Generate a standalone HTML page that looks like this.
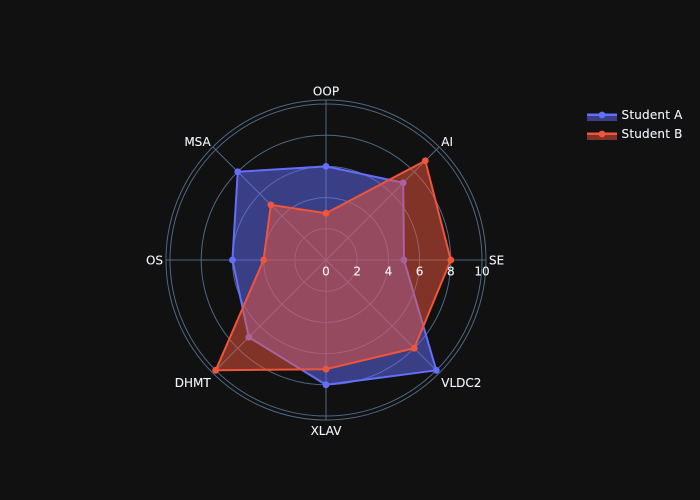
<!DOCTYPE html>
<html>
<head>
<meta charset="utf-8">
<title>Student radar chart</title>
<style>
html,body{margin:0;padding:0;background:#111111;}
svg{display:block;}
text{font-family:"DejaVu Sans","Liberation Sans",sans-serif;font-size:12px;fill:#f2f5fa;stroke:#f2f5fa;stroke-width:0.1px;}
.legend-text{letter-spacing:0.2px;}
</style>
</head>
<body>
<svg id="chart" xmlns="http://www.w3.org/2000/svg" width="700" height="500" viewBox="0 0 700 500">
  <rect x="0" y="0" width="700" height="500" fill="#111111"/>
  <g id="grid"></g>
  <g id="series"></g>
  <g id="labels"></g>
  <g>
    <g>
      <rect x="587" y="113" width="30" height="8" fill="rgba(99,110,250,0.5)"/>
      <line x1="587" y1="115" x2="617" y2="115" stroke="#636efa" stroke-width="2"/>
      <circle cx="602" cy="115" r="3.4" fill="#636efa"/>
      <text class="legend-text" x="621.5" y="119">Student A</text>
    </g>
    <g>
      <rect x="587" y="132" width="30" height="8" fill="rgba(239,85,59,0.5)"/>
      <line x1="587" y1="134" x2="617" y2="134" stroke="#EF553B" stroke-width="2"/>
      <circle cx="602" cy="134" r="3.4" fill="#EF553B"/>
      <text class="legend-text" x="621.5" y="138">Student B</text>
    </g>
  </g>
</svg>
<script>
var categories = ["OOP", "AI", "SE", "VLDC2", "XLAV", "DHMT", "OS", "MSA"];
var studentA = [6, 7, 5, 10, 8, 7, 6, 8];
var studentB = [3, 9, 8, 8, 7, 10, 4, 5];
var radialTicks = [0, 2, 4, 6, 8, 10];

var NS = "http://www.w3.org/2000/svg";
var cx = 326, cy = 260, unit = 15.6, outerR = 160;
var gridEl = document.getElementById("grid");
var seriesEl = document.getElementById("series");
var labelsEl = document.getElementById("labels");

function rScale(v) { return v * unit; }
function angleOf(i) { return 2 * Math.PI * i / categories.length; }
function px(i, r) { return cx + r * Math.sin(angleOf(i)); }
function py(i, r) { return cy - r * Math.cos(angleOf(i)); }
function make(tag, parent) {
  var el = document.createElementNS(NS, tag);
  parent.appendChild(el);
  return el;
}

// spokes
categories.forEach(function (c, i) {
  var l = make("line", gridEl);
  
  
  l.setAttribute("x1", cx);
  l.setAttribute("y1", cy);
  l.setAttribute("x2", px(i, outerR));
  l.setAttribute("y2", py(i, outerR));
  l.setAttribute("stroke", "#506784");
  l.setAttribute("stroke-width", "1");
});

// rings
radialTicks.forEach(function (t) {
  if (t === 0) return;
  var ring = make("circle", gridEl);
  
  
  ring.setAttribute("cx", cx);
  ring.setAttribute("cy", cy);
  ring.setAttribute("r", rScale(t));
  ring.setAttribute("fill", "none");
  ring.setAttribute("stroke", "#506784");
  ring.setAttribute("stroke-width", "1");
});
var outer = make("circle", gridEl);


outer.setAttribute("cx", cx);
outer.setAttribute("cy", cy);
outer.setAttribute("r", outerR);
outer.setAttribute("fill", "none");
outer.setAttribute("stroke", "#506784");
outer.setAttribute("stroke-width", "1");

// radial axis line
var axisLine = make("line", gridEl);


axisLine.setAttribute("x1", cx);
axisLine.setAttribute("y1", cy);
axisLine.setAttribute("x2", cx + outerR);
axisLine.setAttribute("y2", cy);
axisLine.setAttribute("stroke", "#506784");
axisLine.setAttribute("stroke-width", "1");

function drawSeries(name, values, color, fill) {
  var pts = values.map(function (v, i) {
    return px(i, rScale(v)).toFixed(2) + "," + py(i, rScale(v)).toFixed(2);
  }).join(" ");
  var poly = make("polygon", seriesEl);
  
  
  poly.setAttribute("points", pts);
  poly.setAttribute("fill", fill);
  poly.setAttribute("stroke", color);
  poly.setAttribute("stroke-width", "2");
  poly.setAttribute("stroke-linejoin", "round");
  values.forEach(function (v, i) {
    var dot = make("circle", seriesEl);
    
    
    dot.setAttribute("cx", px(i, rScale(v)));
    dot.setAttribute("cy", py(i, rScale(v)));
    dot.setAttribute("r", "3.4");
    dot.setAttribute("fill", color);
  });
}
drawSeries("student-a", studentA, "#636efa", "rgba(99,110,250,0.5)");
drawSeries("student-b", studentB, "#EF553B", "rgba(239,85,59,0.5)");

// angular labels
categories.forEach(function (c, i) {
  var s = Math.sin(angleOf(i)), k = Math.cos(angleOf(i));
  var r = outerR + 3;
  var t = make("text", labelsEl);
  
  
  t.setAttribute("x", px(i, r));
  var off = k >= 0 ? 4.3 - 6 * k * k : Math.min(12, 4.5 + 8.5 * Math.sqrt(-k));
  t.setAttribute("y", py(i, r) + off);
  t.setAttribute("text-anchor", Math.abs(s) < 0.01 ? "middle" : (s > 0 ? "start" : "end"));
  t.textContent = c;
});

// radial tick labels
radialTicks.forEach(function (v) {
  var t = make("text", labelsEl);
  
  
  t.setAttribute("x", cx + rScale(v));
  t.setAttribute("y", cy + 15.5);
  t.setAttribute("text-anchor", "middle");
  t.textContent = v;
});
</script>
</body>
</html>
